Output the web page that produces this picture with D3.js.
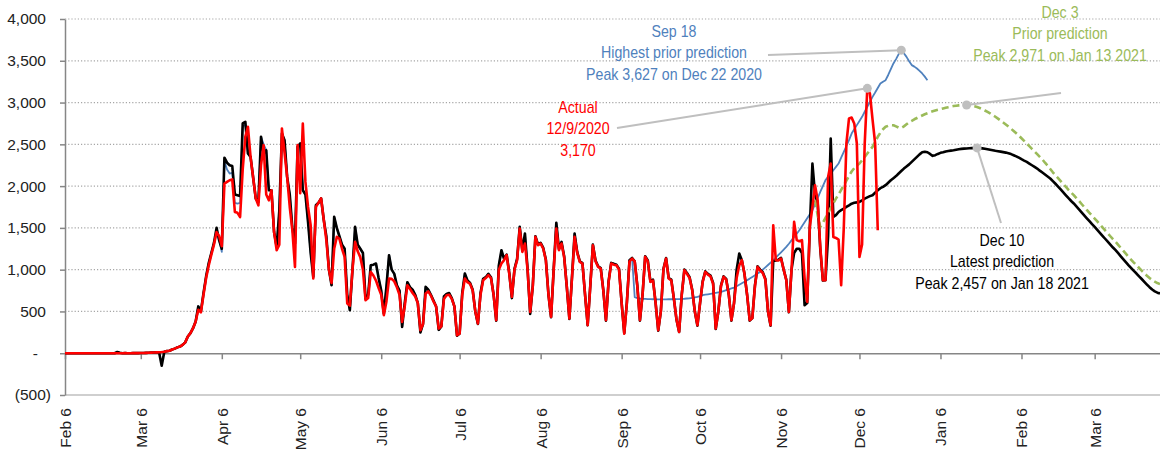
<!DOCTYPE html>
<html>
<head>
<meta charset="utf-8">
<script src="https://d3js.org/d3.v7.min.js"></script>
<style>
  body { margin: 0; background: #fff; }
  svg { display: block; }
  .axis text { font-family: "Liberation Sans", Arial, sans-serif; font-size: 15.5px; fill: #222; }
  .axis line, .axis path { stroke: #868686; stroke-width: 1.5px; }
  .note { font-family: "Liberation Sans", Arial, sans-serif; font-size: 17px; text-anchor: middle; }
</style>
</head>
<body>
<script>
// daily series, day 0 = Feb 6 2020
var startDate = new Date(Date.UTC(2020, 1, 6));
var endDate = new Date(Date.UTC(2021, 2, 31));
var dec3Start = new Date(Date.UTC(2020, 10, 19));

// actual daily deaths (red)
var actual = [
0,0,0,0,0,0,0, 0,0,0,0,0,0,0, 0,0,0,0,0,0,0, 0,0,1,0,0,1,2,
1,2,3,4,5,7,8, 10,12,14,18,25,30,45, 55,70,80,100,130,200,240,
300,380,520,490,700,900,1050, 1180,1300,1450,1400,1280,2030,2050,
2070,2080,1690,1680,1630,2200,2590, 2710,2350,2100,1850,1770,2250,2490,
1900,1830,1950,1450,1233,1300,2690, 2400,2110,1750,1472,1033,2490,1915,
2750,2050,1750,1532,894,1751,1800, 1852,1600,1353,1000,840,1250,1392,
1370,1250,1153,595,570,1000,1332, 1220,1150,1000,634,660,973,930,
870,780,700,455,620,894,890, 860,790,700,375,560,814,770,
720,680,600,275,350,715,740, 690,620,560,295,320,650,694,
700,650,560,215,235,700,894, 850,830,750,500,355,700,874,
900,934,900,700,395,1000,1073, 1113,1173,950,674,1000,1113,1492,
1213,1313,1000,494,800,1392,1293, 1313,1250,1113,700,435,1000,1492,
1233,1313,1150,800,415,900,1392, 1200,1093,1073,700,335,800,1293,
1100,1033,1013,750,395,850,1073, 1060,1053,1000,600,235,600,1100,
1133,1100,800,395,700,1153,1100, 853,870,600,275,500,1000,1133,
894,870,650,400,255,700,994, 950,900,754,500,335,600,850,
973,940,920,830,295,500,800, 914,880,700,395,600,900,1050,
1113,950,700,395,420,800,1033, 990,960,880,500,335,1532,1113,
1110,1133,1000,874,494,1000,1572, 1353,1340,1353,900,614,1512,1750,
2011,1831,1272,874,874,2110,2270, 1392,1380,1360,814,1500,2510,2810,
2820,2750,2510,1153,1300,2500,3170, 3108,2800,2510,1472
];

// Dec 10 model: reported history then latest prediction (black)
var latestDec10 = [
0,0,0,0,0,0,0, 0,0,0,0,0,0,0, 0,0,0,0,0,0,15, 5,0,1,0,0,1,2,
1,2,3,4,5,7,8, 10,12,-150,18,25,30,45, 55,70,80,100,130,200,240,
300,380,560,500,720,920,1080, 1200,1320,1500,1350,1250,2340,2280,
2250,2240,1900,1891,1880,2750,2770, 2390,2350,2100,1850,1811,2590,2390,
2430,1950,1950,1450,1273,1700,2630, 2550,2110,1900,1500,1313,2470,2510,
1950,1900,1570,1200,914,1771,1800, 1852,1600,1400,1000,814,1632,1500,
1400,1300,1250,700,515,1000,1512, 1300,1250,1200,654,700,1053,1060,
1073,900,750,475,800,1173,1000, 950,814,750,315,600,850,790,
760,700,600,250,350,794,760, 700,630,560,280,320,680,710,
720,660,560,210,235,720,954, 870,840,760,500,350,720,890,
910,950,910,700,390,1050,1233, 1130,1180,960,660,1010,1130,1512,
1230,1432,1010,470,810,1400,1300, 1320,1260,1120,700,430,1010,1560,
1250,1332,1160,800,410,910,1432, 1210,1100,1080,700,335,810,1300,
1110,1040,1020,750,390,860,1081, 1070,1060,1010,600,240,610,1113,
1140,1100,810,390,700,1160,1110, 860,880,600,270,500,1010,1140,
900,880,650,400,255,700,1000, 960,910,760,500,330,600,860,
980,950,930,840,290,500,810, 920,890,700,390,600,1000,1193,
1113,950,700,390,420,810,1040, 1000,970,890,500,330,1100,1110,
1120,1140,1000,880,490,1000,1200, 1250,1250,1200,575,600,1500,2270,
1900,1800,1250,870,874,1400,2570, 1632,1652,1690,1712,1730,1751,1770,
1790,1800,1805,1811,1830,1850,1865, 1880,1891,1920,1950,1975,1990,2011,
2040,2070,2095,2120,2151,2180,2210, 2235,2260,2290,2320,2350,2380,2405,
2412,2405,2385,2362,2370,2385,2398, 2405,2415,2420,2425,2430,2436,2442,
2446,2449,2451,2453,2455,2456,2457, 2455,2452,2447,2441,2435,2429,2423,
2418,2413,2407,2401,2393,2383,2370, 2356,2340,2322,2305,2290,2270,2250,
2230,2210,2185,2162,2138,2115,2091, 2060,2028,1995,1960,1925,1890,1855,
1822,1792,1757,1722,1686,1650,1615, 1580,1545,1512,1477,1441,1405,1370,
1335,1300,1265,1233,1197,1160,1124, 1088,1052,1018,985,954,920,888,
855,822,790,762,740,725,715
];

// Sep 18 model: history then prediction (blue)
var sep18 = [
0,0,0,0,0,0,0, 0,0,0,0,0,0,0, 0,0,0,0,0,0,15, 5,0,1,0,0,1,2,
1,2,3,4,5,7,8, 10,12,14,18,25,30,45, 55,70,80,100,130,200,240,
300,380,560,500,720,920,1080, 1200,1320,1450,1350,1213,2300,2200,
2150,2160,1800,1791,1800,2700,2760, 2390,2350,2100,1850,1811,2590,2500,
2430,1950,1950,1450,1273,1700,2630, 2550,2110,1900,1500,1313,2470,2510,
1950,1900,1570,1200,914,1771,1800, 1852,1600,1400,1000,814,1632,1500,
1400,1300,1250,700,515,1000,1512, 1300,1250,1200,654,700,1053,1060,
1073,900,750,475,800,1173,1000, 950,814,750,315,600,850,790,
760,700,600,250,350,794,760, 700,630,560,280,320,680,710,
720,660,560,210,235,720,954, 870,840,760,500,350,720,890,
910,950,910,700,390,1050,1233, 1130,1180,960,660,1010,1130,1512,
1230,1432,1010,470,810,1400,1300, 1320,1260,1120,700,430,1010,1560,
1250,1332,1160,800,410,910,1432, 1210,1100,1080,700,335,810,1300,
1110,1040,1020,750,390,860,1081, 1070,1060,1010,600,240,610,1113,
1140,670,660,655,652,650,648, 647,646,645,645,645,645,645,
646,646,647,647,648,650,652, 655,658,662,668,675,684,694,
700,705,710,715,722,728,734, 744,754,764,775,786,802,820,
838,856,874,893,913,933,953, 973,1000,1028,1056,1085,1113,1145,
1177,1208,1240,1272,1310,1350,1390, 1430,1472,1520,1568,1616,1664,1712,
1785,1855,1930,2000,2071,2110,2150, 2190,2230,2270,2340,2410,2480,2550,
2629,2680,2730,2780,2829,2890,2950, 3010,3068,3120,3175,3228,3250,3268,
3330,3400,3468,3520,3580,3627,3590, 3547,3495,3448,3430,3408,3380,3348,
3310,3268
];

// Dec 3 prediction (green dashed), from Nov 19 2020
var dec3 = [
1831,1650,1512,1560,1620,1680,1740, 1795,1850,1900,1955,2010,2065,2120,
2175,2215,2245,2270,2310,2350,2390, 2430,2470,2530,2590,2640,2680,2710,
2722,2730,2728,2715,2700,2697,2715, 2740,2765,2782,2800,2815,2830,2845,
2860,2872,2884,2895,2905,2914,2922, 2930,2938,2945,2952,2958,2962,2966,
2969,2970,2971,2968,2962,2955,2946, 2935,2920,2905,2888,2870,2850,2830,
2808,2785,2762,2738,2713,2687,2660, 2632,2603,2573,2542,2510,2478,2446,
2414,2382,2350,2318,2280,2245,2205, 2165,2128,2095,2060,2025,1990,1955,
1922,1892,1857,1822,1786,1750,1715, 1680,1645,1612,1577,1541,1505,1470,
1435,1400,1365,1333,1297,1260,1224, 1188,1152,1118,1085,1054,1020,988,
957,927,900,876,856,840,828
];

var yTicks = [-500, 0, 500, 1000, 1500, 2000, 2500, 3000, 3500, 4000];

var notes = [
  { key: "sep18", from: 0, color: "#4f81bd", cx: 674, top: 37, anchor: [768, 55],
    lines: ["Sep 18", "Highest prior prediction", "Peak 3,627 on Dec 22 2020"] },
  { key: "actual", from: 0, color: "#ff0000", cx: 578, top: 113, anchor: [617, 128],
    lines: ["Actual", "12/9/2020", "3,170"] },
  { key: "dec3", from: 0, color: "#9bbb59", cx: 1060, top: 18, anchor: [1061, 93],
    lines: ["Dec 3", "Prior prediction", "Peak 2,971 on Jan 13 2021"] },
  { key: "latest", from: 294, color: "#000000", cx: 1002, top: 246, anchor: [1001, 223],
    lines: ["Dec 10", "Latest prediction", "Peak 2,457 on Jan 18 2021"] }
];

var width = 1160, height = 453;
var svg = d3.select("body").append("svg").attr("width", width).attr("height", height);

var x = d3.scaleUtc().domain([startDate, endDate]).range([65, 1160]);
var y = d3.scaleLinear().domain([-500, 4000]).range([395, 19]);

function yLabel(v) {
  if (v === 0) return "-";
  if (v < 0) return "(" + d3.format(",")(-v) + ")";
  return d3.format(",")(v);
}

// gridlines
svg.append("g").selectAll("line")
  .data(yTicks.filter(function(v) { return v > 0; }))
  .join("line")
  .attr("x1", 65).attr("x2", width)
  .attr("y1", function(d) { return y(d); }).attr("y2", function(d) { return y(d); })
  .attr("stroke", "#a6a6a6").attr("stroke-width", 1.2)
  .attr("stroke-dasharray", "1.2,2");

svg.append("line")
  .attr("x1", 65).attr("x2", width)
  .attr("y1", y(-500)).attr("y2", y(-500))
  .attr("stroke", "#cfcfcf").attr("stroke-width", 2);

// y axis
var yAxis = svg.append("g").attr("class", "axis")
  .attr("transform", "translate(65,0)")
  .call(d3.axisLeft(y).tickValues(yTicks).tickFormat(yLabel).tickSize(5).tickSizeOuter(0).tickPadding(14));
yAxis.selectAll("text")
  .attr("x", function(d) { return d === 0 ? -27 : (d < 0 ? -14 : -19); });

// x axis at zero
var monthTicks = d3.utcMonth.range(new Date(Date.UTC(2020, 1, 1)), new Date(Date.UTC(2021, 2, 2)))
  .map(function(m) { return d3.utcDay.offset(m, 5); });
var xAxis = svg.append("g").attr("class", "axis")
  .attr("transform", "translate(0," + y(0) + ")")
  .call(d3.axisBottom(x).tickValues(monthTicks).tickFormat(d3.utcFormat("%b %-d")).tickSize(6).tickSizeOuter(0));
xAxis.selectAll("text")
  .attr("x", 0).attr("y", 0).attr("dy", "0.35em")
  .attr("transform", "translate(0," + (408 - y(0)) + ") rotate(-90)")
  .style("text-anchor", "end");

// series
function points(start, vals) {
  return vals.map(function(v, i) { return { d: d3.utcDay.offset(start, i), v: v }; });
}
var series = {
  sep18:  { pts: points(startDate, sep18), color: "#4f81bd", w: 1.8 },
  latest: { pts: points(startDate, latestDec10), color: "#000000", w: 2.6 },
  dec3:   { pts: points(dec3Start, dec3), color: "#9bbb59", w: 2.6, dash: "7,4" },
  actual: { pts: points(startDate, actual), color: "#ff0000", w: 2.6 }
};
var line = d3.line().x(function(p) { return x(p.d); }).y(function(p) { return y(p.v); });

["sep18", "latest", "dec3", "actual"].forEach(function(k) {
  var s = series[k];
  svg.append("path")
    .attr("d", line(s.pts))
    .attr("fill", "none")
    .attr("stroke", s.color)
    .attr("stroke-width", s.w)
    .attr("stroke-linejoin", "round")
    .attr("stroke-dasharray", s.dash || null);
});

// annotations (narrow lettering: squeeze the text horizontally)
notes.forEach(function(n) {
  var pts = series[n.key].pts.slice(n.from);
  var peak = pts[d3.maxIndex(pts, function(p) { return p.v; })];
  var px = x(peak.d), py = y(peak.v);
  svg.append("line")
    .attr("x1", n.anchor[0]).attr("y1", n.anchor[1])
    .attr("x2", px).attr("y2", py)
    .attr("stroke", "#bfbfbf").attr("stroke-width", 2);
  svg.append("circle").attr("cx", px).attr("cy", py).attr("r", 4.5).attr("fill", "#bfbfbf");
  var t = svg.append("text").attr("class", "note").attr("fill", n.color)
    .attr("transform", "translate(" + n.cx + ",0) scale(0.835,1)");
  n.lines.forEach(function(s, i) {
    t.append("tspan").attr("x", 0).attr("y", n.top + i * 21.5).text(s);
  });
});
</script>
</body>
</html>
